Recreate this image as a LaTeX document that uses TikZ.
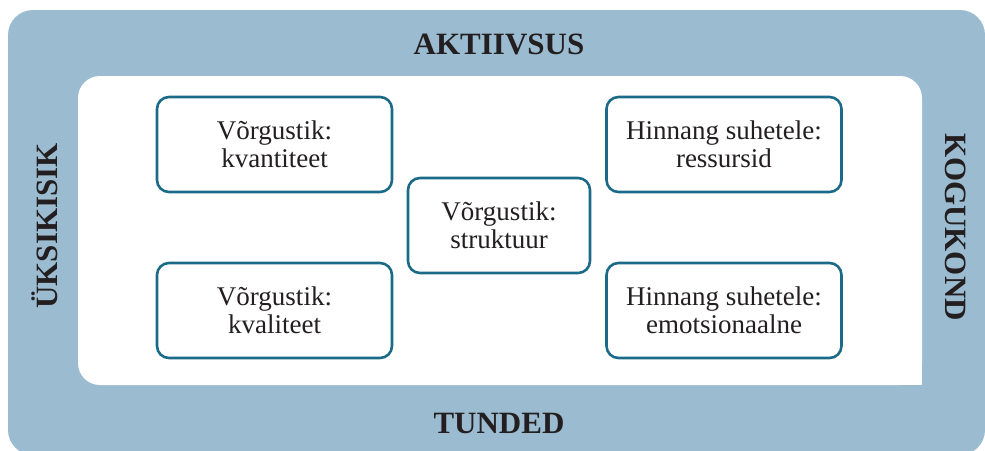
\documentclass[tikz,border=0pt]{standalone}
\usepackage{fontspec}
\setmainfont{Liberation Serif}
\usepackage{tikz}

\definecolor{bandblue}{HTML}{9BBCD0}
\definecolor{boxteal}{HTML}{1B6A87}
\definecolor{textdark}{HTML}{231F20}

\begin{document}
\begin{tikzpicture}[x=1pt, y=-1pt,
    topic/.style={draw=boxteal, line width=2.6pt, rounded corners=12pt, fill=white,
      minimum width=235pt, minimum height=95pt, align=center, text=textdark,
      font=\fontsize{27}{28}\selectfont},
    side/.style={text=textdark, font=\fontsize{31}{31}\selectfont\bfseries, anchor=base, inner sep=0pt}]
    \useasboundingbox (0,0) rectangle (985,450);

    % bands and inner field
    \fill[bandblue, rounded corners=25pt] (8,10) rectangle (985,455);
    \fill[white, rounded corners=22pt] (78,76) rectangle (922,385);
    \fill[white] (898,361) rectangle (922,385);

    % side labels
    \node[side] (akt) at (499,54) {AKTIIVSUS};
    \node[side] (tun) at (499,433) {TUNDED};
    \node[side, rotate=90] (yks) at (57,226) {ÜKSIKISIK};
    \node[side, rotate=-90] (kog) at (945,227) {KOGUKOND};

    % boxes
    \node[topic] (kvant) at (274.5,144.5) {Võrgustik:\\kvantiteet};
    \node[topic] (kval) at (274.5,310.5) {Võrgustik:\\kvaliteet};
    \node[topic, minimum width=182pt] (strukt) at (499,225.5) {Võrgustik:\\struktuur};
    \node[topic] (ress) at (724,144.5) {Hinnang suhetele:\\ressursid};
    \node[topic] (emo) at (724,310.5) {Hinnang suhetele:\\emotsionaalne};
\end{tikzpicture}
\end{document}
